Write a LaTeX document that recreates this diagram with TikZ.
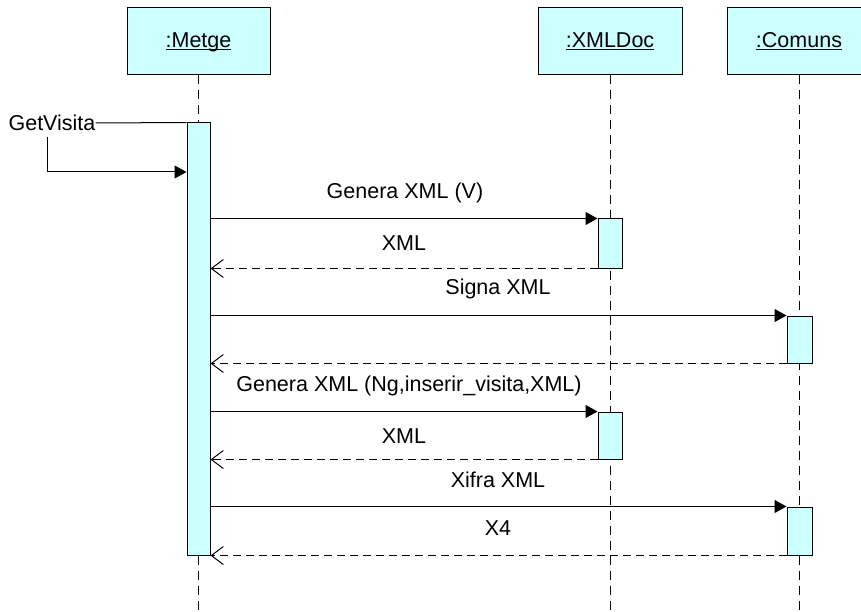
\documentclass[tikz,border=0pt]{standalone}
\usepackage{fontspec}
\setmainfont{Liberation Sans}
\usetikzlibrary{arrows.meta}
\definecolor{objfill}{HTML}{CCFFFF}
\newcommand{\ulname}[1]{\setbox0\hbox{#1}\rlap{\rule[-2.4pt]{\wd0}{1pt}}\box0}
\tikzset{
  obj/.style={draw=black, line width=1pt, fill=objfill, minimum height=67pt, inner sep=0pt},
  actbox/.style={draw=black, line width=1pt, fill=objfill, inner sep=0pt},
  lifeline/.style={line width=1pt, dash pattern=on 9pt off 6pt},
  call/.style={line width=1pt, -{Triangle[length=12pt,width=13pt]}},
  ret/.style={line width=1pt, dash pattern=on 8pt off 5pt, -{Straight Barb[length=12pt,width=18pt,line width=1pt]}},
  msg/.style={anchor=base, inner sep=0pt}
}
\begin{document}
\begin{tikzpicture}[x=1pt,y=-1pt,font=\fontsize{21.5}{25}\selectfont]
\useasboundingbox (0,0) rectangle (861,612);
\fill[white] (0,0) rectangle (861,612);

% object heads
\node[obj, minimum width=143pt] (metge) at (198.5,41.5) {};
\node[obj, minimum width=144pt] (xmldoc) at (610,41.5) {};
\node[obj, minimum width=144pt] (comuns) at (799,41.5) {};
\node[msg] (metgelbl) at (198.5,48) {\ulname{:Metge}};
\node[msg] (xmldoclbl) at (610,48) {\ulname{:XMLDoc}};
\node[msg] (comunslbl) at (799,48) {\ulname{:Comuns}};

% lifelines
\coordinate (bottom) at (0,612);
\draw[lifeline] (metge.south) -- (metge.south |- bottom);
\draw[lifeline] (xmldoc.south) -- (xmldoc.south |- bottom);
\draw[lifeline] (comuns.south) -- (comuns.south |- bottom);

% activation bars
\node[actbox, minimum width=23pt, minimum height=432pt] (mact) at (198.5,339) {};
\node[actbox, minimum width=24pt, minimum height=49pt] (xact1) at (610,243.5) {};
\node[actbox, minimum width=24pt, minimum height=47pt] (xact2) at (610,435.5) {};
\node[actbox, minimum width=25pt, minimum height=47pt] (cact1) at (799.5,339.5) {};
\node[actbox, minimum width=25pt, minimum height=48pt] (cact2) at (799.5,531) {};

% incoming GetVisita message
\node[anchor=center, inner sep=0pt] (gv) at (52,123) {GetVisita};
\draw[line width=1pt] (gv.east) -- (mact.north west);
\coordinate (gvdown) at (47,137);
\coordinate (gvbend) at (47,172);
\draw[call] (gvdown) -- (gvbend) -- (gvbend -| mact.west);

% messages
\draw[call] (xact1.north west -| mact.east) -- (xact1.north west);
\node[msg] (m1) at (405,199) {Genera XML (V)};
\draw[ret] (xact1.south west) -- (xact1.south west -| mact.east);
\node[msg] (r1) at (404,251) {XML};

\draw[call] (cact1.north west -| mact.east) -- (cact1.north west);
\node[msg] (m2) at (498,294) {Signa XML};
\draw[ret] (cact1.south west) -- (cact1.south west -| mact.east);

\draw[call] (xact2.north west -| mact.east) -- (xact2.north west);
\node[msg] (m3) at (409,391) {Genera XML (Ng,inserir\_visita,XML)};
\draw[ret] (xact2.south west) -- (xact2.south west -| mact.east);
\node[msg] (r3) at (404,443) {XML};

\draw[call] (cact2.north west -| mact.east) -- (cact2.north west);
\node[msg] (m4) at (498,487) {Xifra XML};
\draw[ret] (cact2.south west) -- (cact2.south west -| mact.east);
\node[msg] (r4) at (498,535) {X4};
\end{tikzpicture}
\end{document}
